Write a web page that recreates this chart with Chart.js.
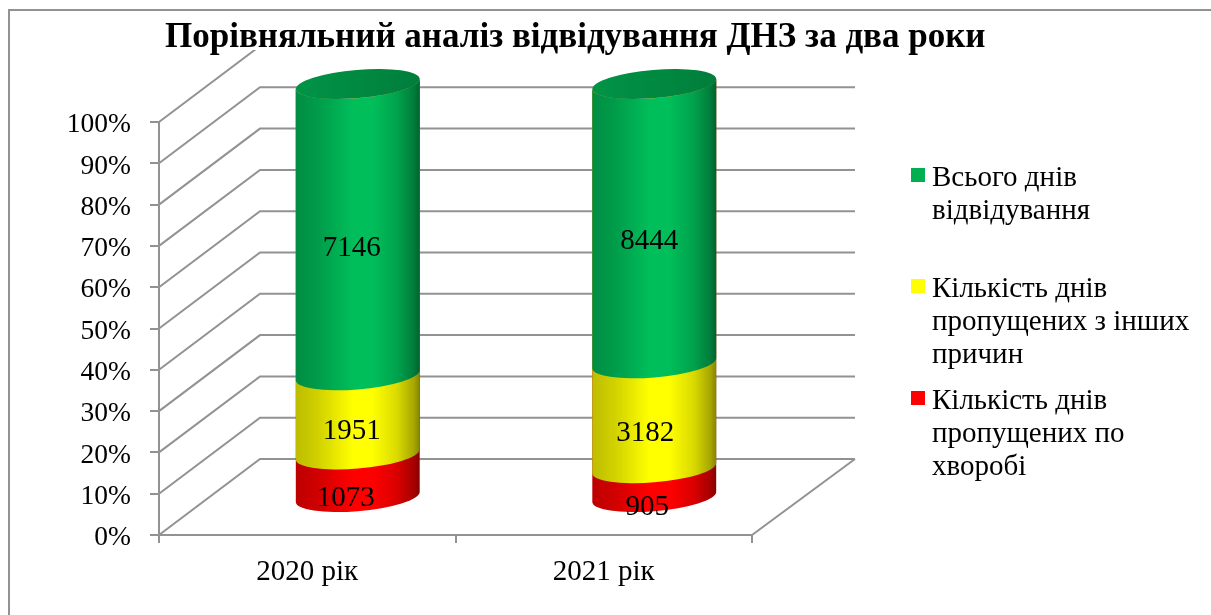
<!DOCTYPE html>
<html lang="uk">
<head>
<meta charset="utf-8">
<title>Порівняльний аналіз відвідування ДНЗ за два роки</title>
<script src="https://cdn.jsdelivr.net/npm/chart.js@4/dist/chart.umd.min.js"></script>
<style>html,body{margin:0;padding:0;background:#fff;overflow:hidden}canvas{display:block}</style>
</head>
<body>
<canvas id="c" width="1211" height="615"></canvas>
<script>
const chartTitle = 'Порівняльний аналіз відвідування ДНЗ за два роки';
const categories = ['2020 рік', '2021 рік'];
const sickDays = [1073, 905];
const otherDays = [1951, 3182];
const attendedDays = [7146, 8444];
const sickLabel = ['Кількість днів', 'пропущених по', 'хворобі'];
const otherLabel = ['Кількість днів', 'пропущених з інших', 'причин'];
const attendedLabel = ['Всього днів', 'відвідування'];

const totals = categories.map((_, i) => sickDays[i] + otherDays[i] + attendedDays[i]);
const share = arr => arr.map((v, i) => v / totals[i] * 100);

const SERIF = '"Liberation Serif", "Times New Roman", serif';
const GRID = '#929292';
const DX = 101, DY = -76, BACK_RIGHT = 855;
const TILT = -4.86 * Math.PI / 180;
const RATIO_B = 14.1 / 62;

function shade(rgb, f) { return `rgb(${rgb.map(c => Math.round(c * f)).join(',')})`; }

const series = [
  { raw: sickDays, names: sickLabel, rgb: [255, 0, 0], swatch: '#ff0000', shift: [[-12, 24], [-7, 26]], legendTop: 391 },
  { raw: otherDays, names: otherLabel, rgb: [255, 255, 0], swatch: '#ffff00', shift: [[-6, 17.5], [-9, 18.5]], legendTop: 279 },
  { raw: attendedDays, names: attendedLabel, rgb: [0, 190, 90], swatch: '#00b050', shift: [[-6, 19], [-5, 18.5]], legendTop: 168 }
];

const scene = {
  id: 'scene',
  afterLayout(chart) { chart.titleBlock.left = 165; chart.titleBlock.right = 1200; },
  beforeDraw(chart) {
    const { ctx, scales: { x, y }, chartArea: a } = chart;
    ctx.save();
    ctx.fillStyle = '#fff';
    ctx.fillRect(0, 0, chart.width, chart.height);
    ctx.strokeStyle = GRID;
    ctx.lineWidth = 2;
    ctx.strokeRect(9, 10, chart.width + 20, chart.height + 20);
    y.ticks.forEach(t => {
      const py = y.getPixelForValue(t.value);
      ctx.beginPath();
      ctx.moveTo(a.left, py);
      ctx.lineTo(a.left + DX, py + DY);
      ctx.lineTo(BACK_RIGHT, py + DY);
      ctx.stroke();
    });
    ctx.beginPath();
    ctx.moveTo(a.right, a.bottom);
    ctx.lineTo(BACK_RIGHT, a.bottom + DY);
    ctx.stroke();
    ctx.fillStyle = '#fff';
    ctx.fillRect(a.left + 2, 12, 830, 38);
    ctx.restore();
  },
  beforeDatasetDraw() { return false; },
  afterDatasetsDraw(chart) {
    const { ctx } = chart;
    const count = chart.data.datasets.length;
    categories.forEach((_, j) => {
      const topEl = chart.getDatasetMeta(count - 1).data[j];
      const a = topEl.width / 2 * 1.003, b = a * RATIO_B;
      const t0 = Math.atan(-(b / a) * Math.tan(TILT));
      const cx = topEl.x + DX / 2;
      const topY = topEl.y + DY / 2;
      for (let i = 0; i < count; i++) {
        const el = chart.getDatasetMeta(i).data[j];
        const g = ctx.createLinearGradient(cx - topEl.width / 2, 0, cx + topEl.width / 2, 0);
        const c = series[i].rgb;
        [[0, .74], [.18, .82], [.46, 1], [.62, 1], [.82, .85], [.95, .66], [1, .52]]
          .forEach(([p, f]) => g.addColorStop(p, shade(c, f)));
        ctx.beginPath();
        ctx.ellipse(cx, el.base + DY / 2 + 1, a, b, TILT, t0, t0 + Math.PI, false);
        ctx.ellipse(cx, topY, a, b, TILT, t0 + Math.PI, t0, true);
        ctx.closePath();
        ctx.fillStyle = g;
        ctx.fill();
      }
      const capC = series[count - 1].rgb;
      const cap = ctx.createLinearGradient(cx - a, 0, cx + a, 0);
      cap.addColorStop(0, shade(capC, .78));
      cap.addColorStop(.7, shade(capC, .7));
      cap.addColorStop(1, shade(capC, .66));
      ctx.beginPath();
      ctx.ellipse(cx, topY, a, b, TILT, 0, Math.PI * 2);
      ctx.fillStyle = cap;
      ctx.fill();
    });
    ctx.save();
    ctx.fillStyle = '#000';
    ctx.font = '29px ' + SERIF;
    ctx.textAlign = 'center';
    ctx.textBaseline = 'middle';
    series.forEach((s, i) => {
      chart.getDatasetMeta(i).data.forEach((el, j) => {
        const mid = (el.y + el.base) / 2;
        ctx.fillText(String(s.raw[j]), el.x + DX / 2 + s.shift[j][0], mid + DY / 2 + s.shift[j][1]);
      });
    });
    ctx.restore();
  },
  afterDraw(chart) {
    const { ctx } = chart;
    ctx.save();
    ctx.textAlign = 'left';
    ctx.textBaseline = 'middle';
    ctx.font = '29px ' + SERIF;
    series.forEach(s => {
      ctx.fillStyle = s.swatch;
      ctx.fillRect(911, s.legendTop, 14, 14);
      ctx.fillStyle = '#000';
      s.names.forEach((line, k) => ctx.fillText(line, 932, s.legendTop + 10 + k * 33.4));
    });
    ctx.restore();
  }
};

new Chart(document.getElementById('c'), {
  type: 'bar',
  data: {
    labels: categories,
    datasets: series.map(s => ({
      label: s.names.join(' '),
      data: share(s.raw),
      backgroundColor: s.swatch,
      barPercentage: 0.418,
      categoryPercentage: 1
    }))
  },
  options: {
    responsive: false,
    animation: false,
    devicePixelRatio: 1,
    layout: { padding: { left: 0, right: 459, top: 0, bottom: 0 } },
    plugins: {
      legend: { display: false },
      tooltip: { enabled: false },
      title: {
        display: true,
        text: chartTitle,
        align: 'start',
        color: '#000',
        font: { family: SERIF, size: 35, weight: 'bold', lineHeight: 1.2 },
        padding: { top: 17, bottom: 63 }
      }
    },
    scales: {
      x: {
        stacked: true,
        afterFit(s) { s.height = 80; },
        grid: { color: GRID, lineWidth: 2, drawOnChartArea: false, tickLength: 8 },
        border: { color: GRID, width: 2 },
        ticks: { color: '#000', font: { family: SERIF, size: 29 }, padding: 12, maxRotation: 0 }
      },
      y: {
        stacked: true,
        min: 0,
        max: 100,
        afterFit(s) { s.width = 159; },
        grid: { color: GRID, lineWidth: 2, drawOnChartArea: false, tickLength: 9 },
        border: { color: GRID, width: 2 },
        ticks: {
          stepSize: 10,
          color: '#000',
          font: { family: SERIF, size: 27.5 },
          padding: 19,
          labelOffset: 3,
          callback: v => v + '%'
        }
      }
    }
  },
  plugins: [scene]
});
</script>
</body>
</html>
